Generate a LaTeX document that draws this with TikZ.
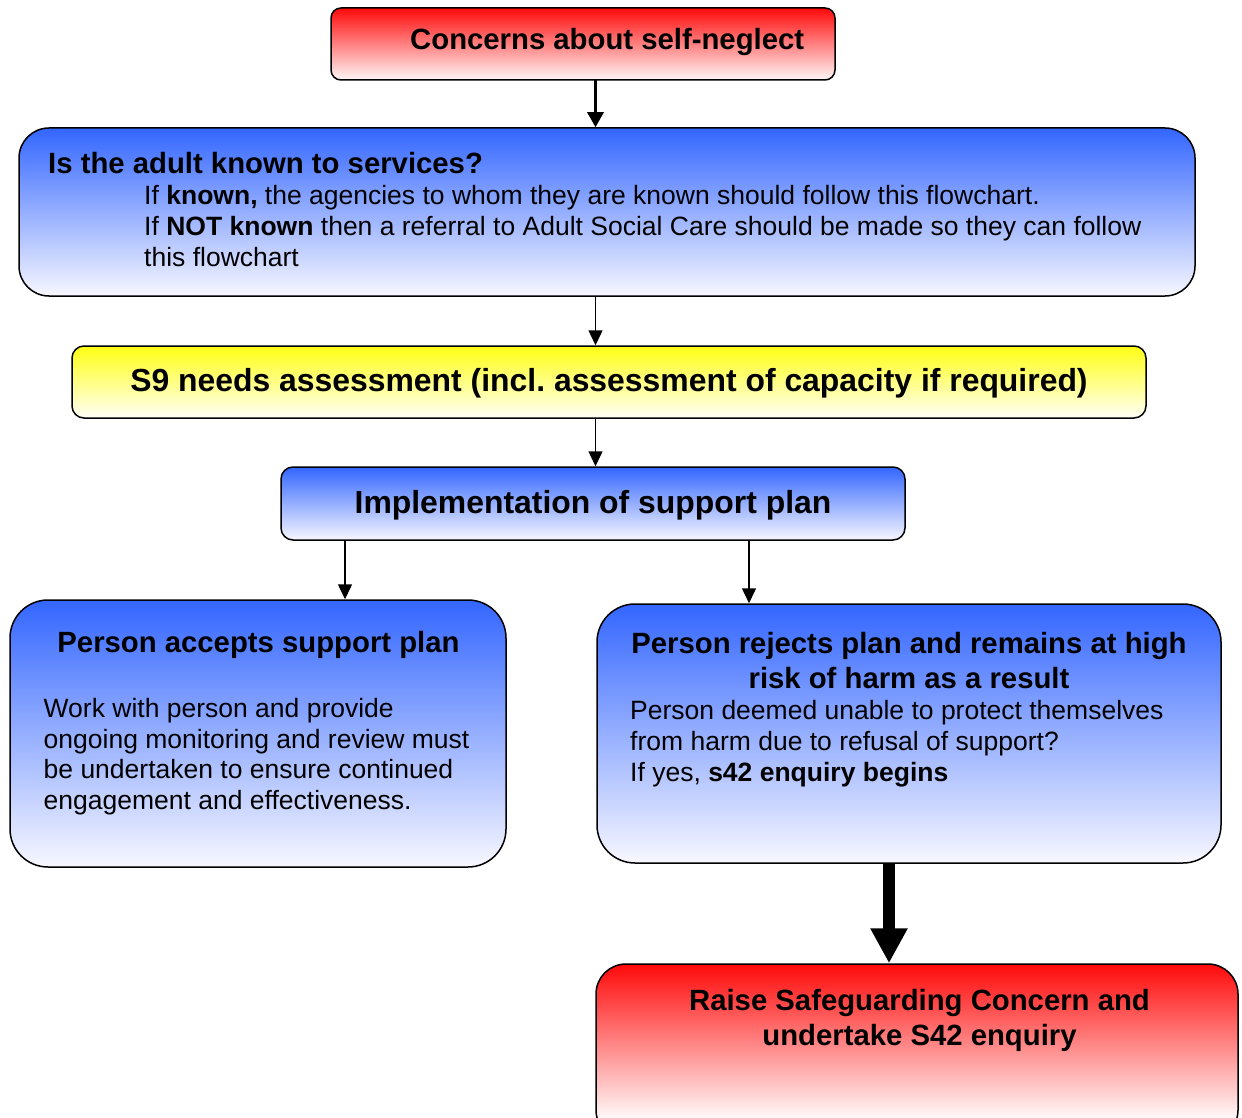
\documentclass[tikz,border=0pt]{standalone}
\usepackage{fontspec}
\setmainfont{Liberation Sans}
\usetikzlibrary{arrows.meta}
\frenchspacing
\definecolor{boxblue}{RGB}{51,102,255}
\definecolor{boxred}{RGB}{255,10,10}
\definecolor{boxyellow}{RGB}{255,255,20}
\pgfdeclareverticalshading{redfade}{100bp}{color(0bp)=(white); color(25bp)=(white); color(31bp)=(white!98!red); color(75bp)=(boxred); color(100bp)=(boxred)}
\begin{document}
\begin{tikzpicture}[x=1pt,y=-1pt,
  box/.style={draw=black, line width=1.5pt, inner sep=0pt},
  redbox/.style={box, top color=boxred, bottom color=white!97!red},
  fadebox/.style={box, shade, shading=redfade},
  bluebox/.style={box, top color=boxblue, bottom color=white!97!blue},
  yellowbox/.style={box, top color=boxyellow, bottom color=white!97!yellow},
  txt/.style={inner sep=0pt, anchor=base west},
  ctxt/.style={inner sep=0pt, anchor=base},
  hd/.style={font=\fontsize{29.3}{35}\selectfont\bfseries},
  bd/.style={font=\fontsize{26.5}{31}\selectfont},
  big/.style={font=\fontsize{31.9}{38}\selectfont\bfseries},
  thinarrow/.style={-{Triangle[length=15pt,width=14pt]}, line width=1.5pt},
  medarrow/.style={-{Triangle[length=15pt,width=16pt]}, line width=3pt},
  bigarrow/.style={-{Triangle[length=35pt,width=35pt]}, line width=12pt}
]
\useasboundingbox (0,0) rectangle (1242,1118);
\clip (0,0) rectangle (1242,1118);

% boxes
\node[redbox, rounded corners=10pt, minimum width=504pt, minimum height=72pt] (concern) at (583,44) {};
\node[bluebox, rounded corners=30pt, minimum width=1176pt, minimum height=168pt] (known) at (607,212) {};
\node[yellowbox, rounded corners=12pt, minimum width=1074pt, minimum height=72pt] (s9) at (609,382) {};
\node[bluebox, rounded corners=12pt, minimum width=624pt, minimum height=73pt] (impl) at (593,503.5) {};
\node[bluebox, rounded corners=38pt, minimum width=496pt, minimum height=267pt] (accept) at (258,733.5) {};
\node[bluebox, rounded corners=38pt, minimum width=624pt, minimum height=259pt] (reject) at (909,733.5) {};
\node[fadebox, rounded corners=30pt, minimum width=642pt, minimum height=176pt] (raise) at (917,1052) {};

% texts
\node[txt, hd] (t1) at (410,50) {Concerns about self-neglect};

\node[txt, hd] (t2) at (48,173.5) {Is the adult known to services?};
\node[txt, bd] (t2a) at (144,205) {If \textbf{known,} the agencies to whom they are known should follow this flowchart.};
\node[txt, bd] (t2b) at (144,235.5) {If \textbf{NOT known} then a referral to Adult Social Care should be made so they can follow};
\node[txt, bd] (t2c) at (144,266) {this flowchart};

\node[ctxt, big] (t3) at (609,391) {S9 needs assessment (incl. assessment of capacity if required)};
\node[ctxt, big] (t4) at (593,513) {Implementation of support plan};

\node[ctxt, hd] (t5) at (258.5,652) {Person accepts support plan};
\node[txt, bd] (t5a) at (43.5,717) {Work with person and provide};
\node[txt, bd] (t5b) at (43.5,748) {ongoing monitoring and review must};
\node[txt, bd] (t5c) at (43.5,778.5) {be undertaken to ensure continued};
\node[txt, bd] (t5d) at (43.5,809) {engagement and effectiveness.};

\node[ctxt, hd] (t6) at (909,653.5) {Person rejects plan and remains at high};
\node[ctxt, hd] (t6b) at (909,688) {risk of harm as a result};
\node[txt, bd] (t6c) at (630,719) {Person deemed unable to protect themselves};
\node[txt, bd] (t6d) at (630,750) {from harm due to refusal of support?};
\node[txt, bd] (t6e) at (630,781) {If yes, \textbf{s42 enquiry begins}};

\node[ctxt, hd] (t7) at (919.5,1010) {Raise Safeguarding Concern and};
\node[ctxt, hd] (t7b) at (919.5,1045) {undertake S42 enquiry};

% connectors
\coordinate (ca) at (595.5,80);
\coordinate (cb) at (595.5,296);
\coordinate (cc) at (595.5,418);
\coordinate (la) at (345,540);
\coordinate (ra) at (749,540);
\coordinate (ba) at (889,863);
\draw[medarrow] (ca) -- (ca |- known.north);
\draw[thinarrow] (cb) -- (cb |- s9.north);
\draw[thinarrow] (cc) -- (cc |- impl.north);
\draw[thinarrow] (la) -- (la |- accept.north);
\draw[thinarrow] (ra) -- (ra |- reject.north);
\draw[bigarrow] (ba) -- (ba |- raise.north);
\end{tikzpicture}
\end{document}
